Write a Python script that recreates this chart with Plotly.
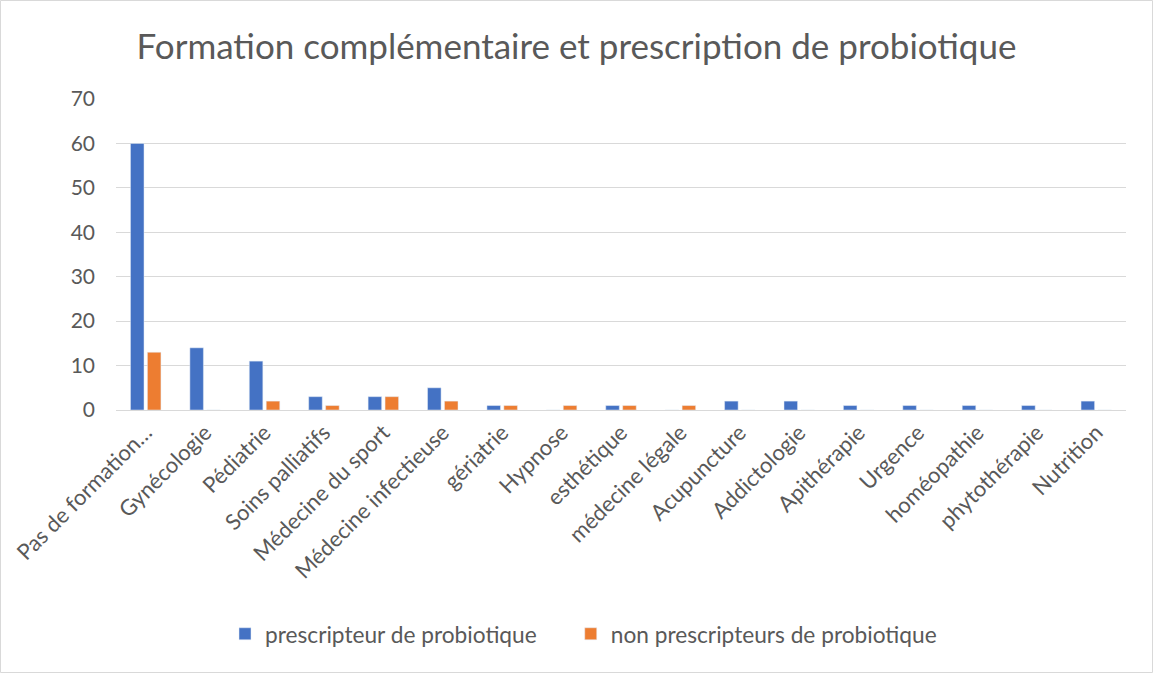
import plotly.graph_objects as go

categories = ["Pas de formation…", "Gynécologie", "Pédiatrie", "Soins palliatifs",
              "Médecine du sport", "Médecine infectieuse", "gériatrie", "Hypnose",
              "esthétique", "médecine légale", "Acupuncture", "Addictologie",
              "Apithérapie", "Urgence", "homéopathie", "phytothérapie", "Nutrition"]
prescripteurs = [60, 14, 11, 3, 3, 5, 1, 0, 1, 0, 2, 2, 1, 1, 1, 1, 2]
non_prescripteurs = [13, 0, 2, 1, 3, 2, 1, 1, 1, 1, 0, 0, 0, 0, 0, 0, 0]
series_names = ["prescripteur de probiotique", "non prescripteurs de probiotique"]

FONT = "Lato"
GRAY = "#595959"
BLUE = "#4472C4"
ORANGE = "#ED7D31"

fig = go.Figure()
fig.add_bar(x=categories, y=prescripteurs, name=series_names[0] + "\u00a0" * 5,
            marker=dict(color=BLUE))
fig.add_bar(x=categories, y=non_prescripteurs, name=series_names[1],
            marker=dict(color=ORANGE))

L, R, T, B = 116, 27, 99, 263
W, H = 1153, 673
pw, ph = W - L - R, H - T - B

fig.update_layout(
    width=W, height=H,
    margin=dict(l=L, r=R, t=T, b=B, autoexpand=False),
    paper_bgcolor="white", plot_bgcolor="white",
    barmode="group", bargap=0.43, bargroupgap=0.2,
    font=dict(family=FONT, color=GRAY, size=22),
    title=dict(text="Formation complémentaire et prescription de probiotique",
               x=0.5, xanchor="center", y=1 - 47 / H, yanchor="middle",
               font=dict(size=35, color=GRAY, family=FONT)),
    legend=dict(orientation="h", x=(225 - L) / pw, xanchor="left",
                y=-(634 - (H - B)) / ph, yanchor="middle",
                font=dict(size=22.7, color=GRAY), itemwidth=30, traceorder="normal"),
    xaxis=dict(tickangle=-45, showgrid=False, showline=True, linecolor="#d9d9d9",
               linewidth=1, ticks="", tickfont=dict(size=22, color=GRAY)),
    yaxis=dict(range=[0, 70], dtick=10, showgrid=True, gridcolor="#d9d9d9",
               zeroline=False, showline=False, ticks="", ticklabelstandoff=20,
               tickfont=dict(size=21, color=GRAY)),
    shapes=[dict(type="rect", xref="paper", yref="paper",
                 x0=-(L - 0.5) / pw, x1=(W - 0.5 - L) / pw,
                 y0=-(B - 0.5) / ph, y1=(H - 0.5 - B) / ph,
                 line=dict(color="#d9d9d9", width=1), fillcolor="rgba(0,0,0,0)")],
)

fig.write_html("out.html", config={"displayModeBar": False},
               post_script="document.body.style.margin='0';document.body.style.overflow='hidden';")
